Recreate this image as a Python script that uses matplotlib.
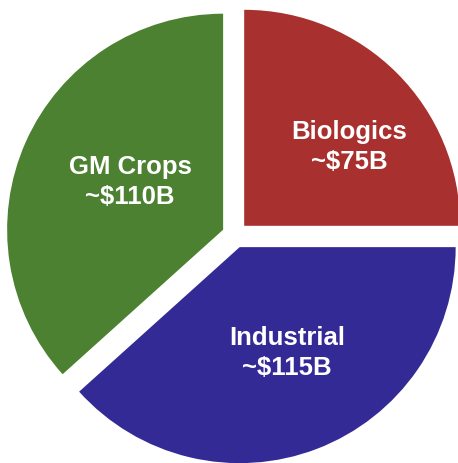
import matplotlib.pyplot as plt

# market sizes, billions of dollars
segments = ["Biologics", "Industrial", "GM Crops"]
values = [75, 115, 110]
value_labels = ["~$75B", "~$115B", "~$110B"]
colors = ["#a8302e", "#342a96", "#4b8130"]

# label centres, in pixels from the pie centre (x right, y up)
label_pos = [(114, 88), (52, -118), (-105, 53)]

plt.rcParams['font.family'] = ['Liberation Sans', 'DejaVu Sans']

fig = plt.figure(figsize=(4.58, 4.63), dpi=100)
ax = fig.add_axes([0, 0, 1, 1])

radius = 216
# explode is in data units here (pixels), not a fraction of the radius
ax.pie(values, colors=colors, startangle=90, counterclock=False,
       radius=radius, explode=[13] * 3,
       wedgeprops=dict(linewidth=0))

for name, val, (x, y) in zip(segments, value_labels, label_pos):
    ax.text(x, y, name + "\n" + val, color="white", fontsize=18.5,
            fontweight="bold", ha="center", va="center", linespacing=1.27)

ax.set_xlim(-235, 223)
ax.set_ylim(-228, 235)
ax.set_aspect("equal")
ax.axis("off")

fig.savefig("out.png", dpi=100)
